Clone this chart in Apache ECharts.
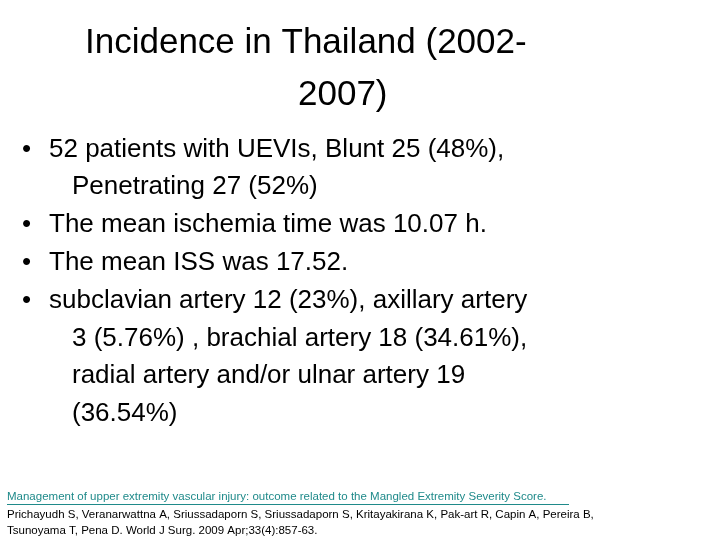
<!DOCTYPE html><html><head><meta charset="utf-8">
<script src="https://cdn.jsdelivr.net/npm/echarts@6/dist/echarts.min.js"></script>
<style>html,body{margin:0;background:#fff}#c{width:720px;height:540px}</style></head><body><div id="c"></div>
<script>
const titleLines = ["Incidence in Thailand (2002-", "2007)"];
const bulletLines = [
  {b:true, t:"52 patients with UEVIs, Blunt 25 (48%),"},
  {b:false,t:"Penetrating 27 (52%)"},
  {b:true, t:"The mean ischemia time was 10.07 h."},
  {b:true, t:"The mean ISS was 17.52."},
  {b:true, t:"subclavian artery 12 (23%), axillary artery"},
  {b:false,t:"3 (5.76%) , brachial artery 18 (34.61%),"},
  {b:false,t:"radial artery and/or ulnar artery 19"},
  {b:false,t:"(36.54%)"}
];
const refLink = "Management of upper extremity vascular injury: outcome related to the Mangled Extremity Severity Score.";
const refLines = ["Prichayudh S, Veranarwattna A, Sriussadaporn S, Sriussadaporn S, Kritayakirana K, Pak-art R, Capin A, Pereira B,",
  "Tsunoyama T, Pena D. World J Surg. 2009 Apr;33(4):857-63."];
const F = "'Liberation Sans', Arial, sans-serif";
const g = [];
g.push({type:'text',left:85,top:26,style:{text:titleLines[0],font:'35px '+F,fill:'#000'}});
g.push({type:'text',left:298,top:78,style:{text:titleLines[1],font:'35px '+F,fill:'#000'}});
const ys=[150,187,225,263,301,339,376,414];
bulletLines.forEach((l,i)=>{
  if(l.b) g.push({type:'text',left:22,top:ys[i]-13,style:{text:'•',font:'26px '+F,fill:'#000'}});
  g.push({type:'text',left:l.b?49:72,top:ys[i]-13,style:{text:l.t,font:'26px '+F,fill:'#000'}});
});
g.push({type:'text',left:7,top:491,style:{text:refLink,font:'11.5px '+F,fill:'#1f8a8a'}});
g.push({type:'rect',left:7,top:504,shape:{width:562,height:1},style:{fill:'#1f8a8a'}});
refLines.forEach((t,i)=>g.push({type:'text',left:7,top:509+i*16,style:{text:t,font:'11.5px '+F,fill:'#000'}}));
const ch = echarts.init(document.getElementById('c'));
ch.setOption({animation:false,graphic:g});
</script></body></html>
